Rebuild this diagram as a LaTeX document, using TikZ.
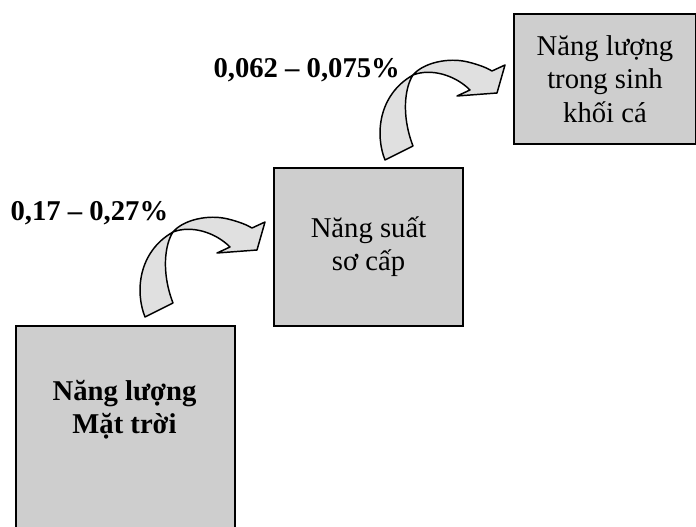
\documentclass[tikz,border=0pt]{standalone}
\usepackage{fontspec}
\setmainfont{Liberation Serif}
\usetikzlibrary{positioning}

\definecolor{boxgray}{RGB}{206,206,206}
\definecolor{arrowgray}{RGB}{224,224,224}

\tikzset{every picture/.style={line width=0.75pt}}
\tikzset{
  levelbox/.style={draw=black, line width=1.5pt, fill=boxgray, inner sep=0pt, align=center,
    font=\fontsize{21.5}{25}\selectfont},
  ratelabel/.style={inner sep=0pt, anchor=west, font=\fontsize{21.5}{25}\selectfont\bfseries},
  arrowbody/.style={draw=black, line width=1.1pt, fill=arrowgray, line join=round},
  twistarrow/.pic={
    % upper band with head
    \filldraw[arrowbody] (0,0) .. controls (10,-12) and (35,-18) .. (55,-13) .. controls (67,-10) and (74,-7) .. (79,-4) -- (92,-10) -- (84,18) -- (44,21) -- (57,15) .. controls (42,0) and (18,-7) .. (0,0) -- cycle;
    % lower band with tail
    \filldraw[arrowbody] (0,0) .. controls (-8,12) and (-12,40) .. (0,71) -- (-28,85) .. controls (-38,60) and (-35,20) .. (0,0) -- cycle;
  }
}

\begin{document}
\begin{tikzpicture}[x=0.75pt,y=0.75pt,yscale=-1,xscale=1]
\useasboundingbox (0,0) rectangle (696,527);
\clip (0,0) rectangle (696,527);

% Boxes
\node[levelbox, anchor=north west, minimum width=164.25pt, minimum height=165pt] (sun) at (15,325) {};
\node[inner sep=0pt, align=center, font=\fontsize{21.5}{25}\selectfont\bfseries] (sunlbl) at (124.5,410) {Năng lượng\\Mặt trời};
\node[levelbox, anchor=north west, minimum width=141.75pt, minimum height=118.5pt] (primary) at (273,167) {Năng suất\\sơ cấp};
\node[levelbox, anchor=north west, minimum width=136.5pt, minimum height=97.5pt] (fish) at (513,13) {Năng lượng\\trong sinh\\khối cá};

% Arrows
\pic[yscale=-1] at (173,232) {twistarrow};
\pic[yscale=-1] at (413,75) {twistarrow};

% Rates
\node[ratelabel] (rateone) at (10,213) {0,17 – 0,27\%};
\node[ratelabel] (ratetwo) at (213,70) {0,062 – 0,075\%};

\end{tikzpicture}
\end{document}
